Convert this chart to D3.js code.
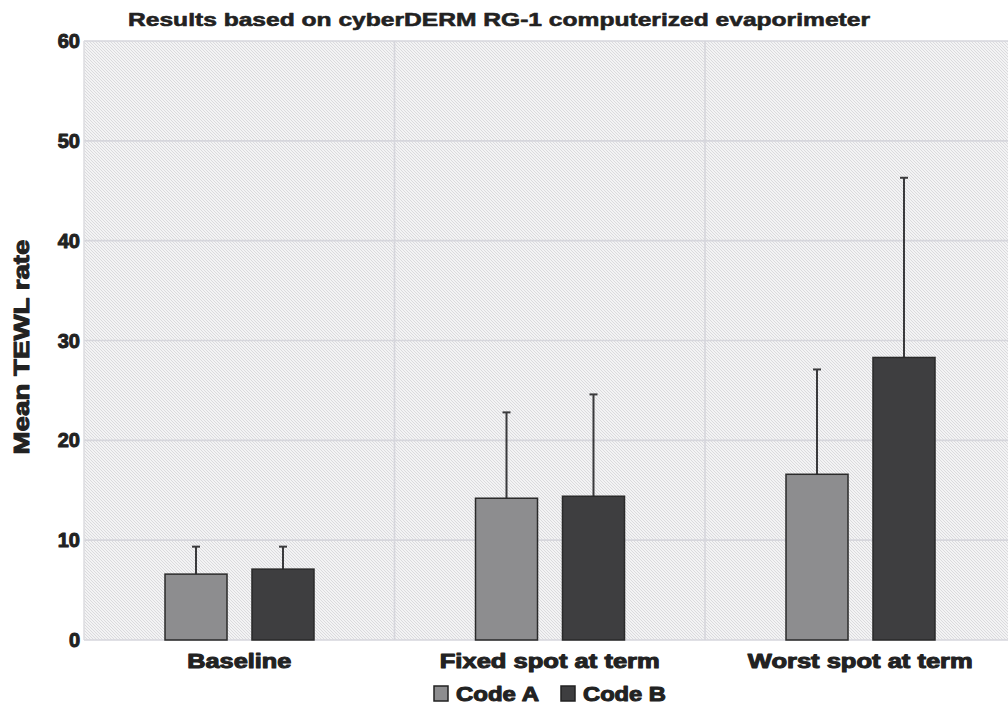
<!DOCTYPE html>
<html><head><meta charset="utf-8">
<script src="https://cdn.jsdelivr.net/npm/d3@7/dist/d3.min.js"></script>
<style>body{margin:0;background:#fff}svg{display:block}text{font-family:"Liberation Sans",Arial,sans-serif;font-weight:bold;fill:#222;stroke:#222;stroke-width:1.0px;stroke-linejoin:round}</style>
</head><body><svg id="c" width="1008" height="708"></svg>
<script>
const categories = ["Baseline", "Fixed spot at term", "Worst spot at term"];
const series = ["Code A", "Code B"];
const codeA = [6.6, 14.2, 16.6];
const codeB = [7.1, 14.4, 28.3];
const errA = [9.35, 22.8, 27.1];
const errB = [9.35, 24.6, 46.3];
const yTicks = [0, 10, 20, 30, 40, 50, 60];
const colors = ["#8d8d8f", "#3e3e40"];

const svg = d3.select("#c");
const L = 84, R = 1015.5, T = 41, B = 640;
const x = d3.scaleBand().domain(categories).range([L, R]);
const xs = d3.scaleBand().domain(series).range([81, 230]).paddingInner(0.287);
const y = d3.scaleLinear().domain([0, 60]).range([B, T]);

const defs = svg.append("defs");
const pat = defs.append("pattern").attr("id","hatch").attr("patternUnits","userSpaceOnUse")
  .attr("width",3).attr("height",3);
pat.append("rect").attr("width",3).attr("height",3).attr("fill","#f3f3f4");
pat.append("path").attr("d","M0,0 L3,3 M-1,2 L1,4 M2,-1 L4,1").attr("stroke","#d7d7da").attr("stroke-width",0.9);

svg.append("rect").attr("x",L).attr("y",T).attr("width",R-L).attr("height",B-T).attr("fill","url(#hatch)");

// gridlines
svg.append("g").selectAll("line").data(yTicks).join("line")
  .attr("x1",L).attr("x2",R).attr("y1",d=>y(d)).attr("y2",d=>y(d))
  .attr("stroke","#d6d6dc").attr("stroke-width",1.6);
svg.append("g").selectAll("line").data(categories.slice(1)).join("line")
  .attr("x1",d=>x(d)).attr("x2",d=>x(d)).attr("y1",T).attr("y2",B)
  .attr("stroke","#d6d6dc").attr("stroke-width",1.6);
svg.append("line").attr("x1",L).attr("x2",L).attr("y1",T).attr("y2",B).attr("stroke","#dcdce0").attr("stroke-width",1.5);

// y axis labels
svg.append("g").selectAll("text").data(yTicks).join("text")
  .attr("x",80).attr("y",d=>y(d)+7).attr("text-anchor","end")
  .attr("font-size",20).text(d=>d);

// bars
const rows = categories.map((c,i)=>[
  {c, s:series[0], v:codeA[i], e:errA[i], col:colors[0]},
  {c, s:series[1], v:codeB[i], e:errB[i], col:colors[1]}
]).flat();
const g = svg.append("g");
g.selectAll("line.err").data(rows).join("line").attr("class","err")
  .attr("x1",d=>x(d.c)+xs(d.s)+xs.bandwidth()/2).attr("x2",d=>x(d.c)+xs(d.s)+xs.bandwidth()/2)
  .attr("y1",d=>y(d.v)).attr("y2",d=>y(d.e)).attr("stroke","#3a3a3c").attr("stroke-width",2);
g.selectAll("line.cap").data(rows).join("line").attr("class","cap")
  .attr("x1",d=>x(d.c)+xs(d.s)+xs.bandwidth()/2-4).attr("x2",d=>x(d.c)+xs(d.s)+xs.bandwidth()/2+4)
  .attr("y1",d=>y(d.e)).attr("y2",d=>y(d.e)).attr("stroke","#3a3a3c").attr("stroke-width",2);
g.selectAll("rect").data(rows).join("rect")
  .attr("x",d=>x(d.c)+xs(d.s)).attr("width",xs.bandwidth())
  .attr("y",d=>y(d.v)).attr("height",d=>y(0)-y(d.v))
  .attr("fill",d=>d.col).attr("stroke","#2a2a2a").attr("stroke-width",1.5);

// x labels
const xw = [104, 220, 225];
svg.append("g").selectAll("text").data(categories).join("text")
  .attr("x",d=>x(d)+x.bandwidth()/2).attr("y",668)
  .attr("text-anchor","middle").attr("font-size",19.5)
  .attr("textLength",(d,i)=>xw[i]).attr("lengthAdjust","spacingAndGlyphs")
  .text(d=>d);

// title
svg.append("text").attr("x",499).attr("y",26).attr("text-anchor","middle")
  .attr("font-size",19).attr("textLength",742).attr("lengthAdjust","spacingAndGlyphs")
  .style("stroke-width","0.6px")
  .text("Results based on cyberDERM RG-1 computerized evaporimeter");

// y title
svg.append("text").attr("transform","translate(29,347) rotate(-90)").attr("text-anchor","middle")
  .attr("font-size",22).attr("textLength",215).attr("lengthAdjust","spacingAndGlyphs")
  .text("Mean TEWL rate");

// legend
const lg = svg.append("g");
const lx = [434, 561];
series.forEach((s,i)=>{
  lg.append("rect").attr("x",lx[i]).attr("y",686).attr("width",14).attr("height",15)
    .attr("fill",colors[i]).attr("stroke","#222").attr("stroke-width",1.5);
  lg.append("text").attr("x",lx[i]+22).attr("y",701).attr("font-size",19.5)
    .attr("textLength",83).attr("lengthAdjust","spacingAndGlyphs").text(s);
});
</script></body></html>
